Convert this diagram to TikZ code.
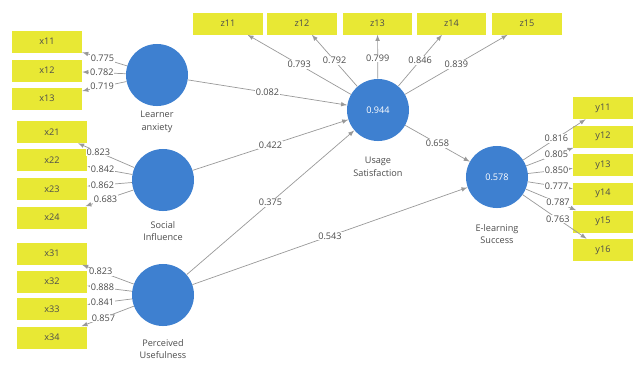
\documentclass[tikz,border=0pt]{standalone}
\usepackage{fontspec}
\setmainfont{Open Sans}
\usepackage{xcolor}
\usetikzlibrary{arrows,positioning}
\definecolor{boxyellow}{RGB}{232,232,52}
\definecolor{latblue}{RGB}{62,128,208}
\tikzset{
  ind/.style={rectangle,fill=boxyellow,draw=none,minimum width=1.75cm,minimum height=0.55cm,
    inner sep=0pt,font=\fontsize{6.5}{7.5}\selectfont,text=black!70},
  lat/.style={circle,fill=latblue,draw=none,minimum size=1.55cm,inner sep=0pt,
    font=\fontsize{6.5}{7.5}\selectfont,text=white},
  latname/.style={align=center,font=\fontsize{6.5}{9}\selectfont,text=black!70},
  path/.style={draw=black!40,line width=0.5pt,->,>=latex},
  coef/.style={fill=white,inner sep=0.6pt,font=\fontsize{6.5}{7.5}\selectfont,text=black!70}
}
\begin{document}
\begin{tikzpicture}[x=0.025cm,y=-0.025cm]
\useasboundingbox (0,0) rectangle (634,364);
% latent variables
\node[lat] (la) at (157,75){};
\node[lat] (si) at (163,180){};
\node[lat] (pu) at (163,295){};
\node[lat] (us) at (378,110){0.944};
\node[lat] (es) at (497,177){0.578};
\node[latname] (laname) at (157,122){Learner\\anxiety};
\node[latname] (siname) at (163,231){Social\\Influence};
\node[latname] (puname) at (163,349){Perceived\\Usefulness};
\node[latname] (usname) at (378,167){Usage\\Satisfaction};
\node[latname] (esname) at (497,234){E-learning\\Success};
% indicators
\node[ind] (x11) at (47,41.5){x11};
\node[ind] (x12) at (47,70.5){x12};
\node[ind] (x13) at (47,98.5){x13};
\node[ind] (x21) at (52,132){x21};
\node[ind] (x22) at (52,160){x22};
\node[ind] (x23) at (52,189){x23};
\node[ind] (x24) at (52,217.5){x24};
\node[ind] (x31) at (52,253.5){x31};
\node[ind] (x32) at (52,281.5){x32};
\node[ind] (x33) at (52,309){x33};
\node[ind] (x34) at (52,337.5){x34};
\node[ind,minimum width=1.725cm] (z11) at (228,23.5){z11};
\node[ind,minimum width=1.725cm] (z12) at (302,23.5){z12};
\node[ind,minimum width=1.725cm] (z13) at (377.5,23.5){z13};
\node[ind,minimum width=1.725cm] (z14) at (451.5,23.5){z14};
\node[ind,minimum width=1.725cm] (z15) at (527,23.5){z15};
\node[ind,minimum width=1.5cm] (y11) at (603,108){y11};
\node[ind,minimum width=1.5cm] (y12) at (603,136.5){y12};
\node[ind,minimum width=1.5cm] (y13) at (603,165){y13};
\node[ind,minimum width=1.5cm] (y14) at (603,193.5){y14};
\node[ind,minimum width=1.5cm] (y15) at (603,221.5){y15};
\node[ind,minimum width=1.5cm] (y16) at (603,250){y16};
% outer loadings
    \draw[path] (la) to node[coef,pos=0.55]{0.775} (x11);
      \draw[path] (la) to node[coef,pos=0.55]{0.782} (x12);
        \draw[path] (la) to node[coef,pos=0.55]{0.719} (x13);
    \draw[path] (si) to node[coef,pos=0.64]{0.823} (x21);
      \draw[path] (si) to node[coef,pos=0.66]{0.842} (x22);
        \draw[path] (si) to node[coef,pos=0.66]{0.862} (x23);
          \draw[path] (si) to node[coef,pos=0.58]{0.683} (x24);
    \draw[path] (pu) to node[coef,pos=0.64]{0.823} (x31);
      \draw[path] (pu) to node[coef,pos=0.66]{0.888} (x32);
        \draw[path] (pu) to node[coef,pos=0.66]{0.841} (x33);
          \draw[path] (pu) to node[coef,pos=0.58]{0.857} (x34);
    \draw[path] (us) to node[coef,pos=0.5]{0.793} (z11);
      \draw[path] (us) to node[coef,pos=0.5]{0.792} (z12);
        \draw[path] (us) to node[coef,pos=0.47]{0.799} (z13);
          \draw[path] (us) to node[coef,pos=0.5]{0.846} (z14);
            \draw[path] (us) to node[coef,pos=0.5]{0.839} (z15);
    \draw[path] (es) to node[coef,pos=0.53]{0.816} (y11);
      \draw[path] (es) to node[coef,pos=0.64]{0.805} (y12);
        \draw[path] (es) to node[coef,pos=0.64]{0.850} (y13);
          \draw[path] (es) to node[coef,pos=0.64]{0.777} (y14);
            \draw[path] (es) to node[coef,pos=0.64]{0.787} (y15);
              \draw[path] (es) to node[coef,pos=0.55]{0.763} (y16);
% inner model
    \draw[path] (la) to node[coef]{0.082} (us);
      \draw[path] (si) to node[coef]{0.422} (us);
        \draw[path] (pu) to node[coef]{0.375} (us);
          \draw[path] (us) to node[coef]{0.658} (es);
            \draw[path] (pu) to node[coef]{0.543} (es);
\end{tikzpicture}
\end{document}
